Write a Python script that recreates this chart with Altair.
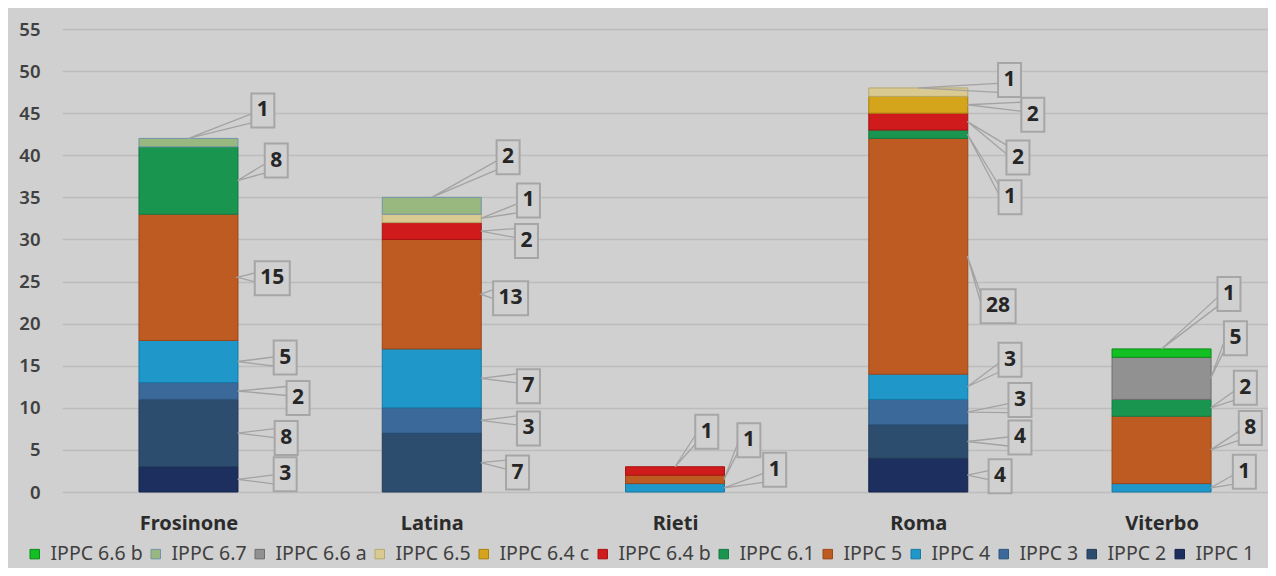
import altair as alt
import pandas as pd

# ---------------- data ----------------
categories = ["Frosinone", "Latina", "Rieti", "Roma", "Viterbo"]
series = ["IPPC 1", "IPPC 2", "IPPC 3", "IPPC 4", "IPPC 5", "IPPC 6.1",
          "IPPC 6.4 b", "IPPC 6.4 c", "IPPC 6.5", "IPPC 6.6 a", "IPPC 6.7", "IPPC 6.6 b"]

ippc_1 = [3, 0, 0, 4, 0]
ippc_2 = [8, 7, 0, 4, 0]
ippc_3 = [2, 3, 0, 3, 0]
ippc_4 = [5, 7, 1, 3, 1]
ippc_5 = [15, 13, 1, 28, 8]
ippc_6_1 = [8, 0, 0, 1, 2]
ippc_6_4b = [0, 2, 1, 2, 0]
ippc_6_4c = [0, 0, 0, 2, 0]
ippc_6_5 = [0, 1, 0, 1, 0]
ippc_6_6a = [0, 0, 0, 0, 5]
ippc_6_7 = [1, 2, 0, 0, 0]
ippc_6_6b = [0, 0, 0, 0, 1]

values = [ippc_1, ippc_2, ippc_3, ippc_4, ippc_5, ippc_6_1,
          ippc_6_4b, ippc_6_4c, ippc_6_5, ippc_6_6a, ippc_6_7, ippc_6_6b]

y_ticks = list(range(0, 56, 5))

# ---------------- styles ----------------
fills = ["#1c2f5e", "#2c4d6e", "#3b6a9a", "#1f97c8", "#bd5b23", "#1a9550",
         "#cf1b1b", "#d4a41a", "#d9ca92", "#919191", "#98b880", "#12c024"]
strokes = ["#15244a", "#223c58", "#2d557e", "#1679a5", "#9c4618", "#137a40",
           "#a81414", "#a8810e", "#b8a870", "#6e6e6e", "#7393a8", "#0a8a18"]

BG = "#d0d0d0"
FONT = "Noto Sans"

# callout box offsets (px) from the leader tip, keyed by (category, series)
label_offsets = {
    ("Frosinone", "IPPC 6.7"): (75, -28), ("Frosinone", "IPPC 6.1"): (39, -20),
    ("Frosinone", "IPPC 5"): (35, 1), ("Frosinone", "IPPC 4"): (48, -4),
    ("Frosinone", "IPPC 3"): (61, 7), ("Frosinone", "IPPC 2"): (49, 5),
    ("Frosinone", "IPPC 1"): (48, -5),
    ("Latina", "IPPC 6.7"): (77, -40), ("Latina", "IPPC 6.5"): (48, -18),
    ("Latina", "IPPC 6.4 b"): (46, 10), ("Latina", "IPPC 5"): (30, 4),
    ("Latina", "IPPC 4"): (48, 8), ("Latina", "IPPC 3"): (48, 8),
    ("Latina", "IPPC 2"): (37, 10),
    ("Rieti", "IPPC 6.4 b"): (32, -35), ("Rieti", "IPPC 5"): (25, -39),
    ("Rieti", "IPPC 4"): (51, -18),
    ("Roma", "IPPC 6.5"): (92, -8), ("Roma", "IPPC 6.4 c"): (66, 10),
    ("Roma", "IPPC 6.4 b"): (51, 36), ("Roma", "IPPC 6.1"): (43, 63),
    ("Roma", "IPPC 5"): (31, 50), ("Roma", "IPPC 4"): (43, -27),
    ("Roma", "IPPC 3"): (53, -12), ("Roma", "IPPC 2"): (53, -4),
    ("Roma", "IPPC 1"): (33, 1),
    ("Viterbo", "IPPC 6.6 b"): (68, -55), ("Viterbo", "IPPC 6.6 a"): (25, -40),
    ("Viterbo", "IPPC 6.1"): (35, -20), ("Viterbo", "IPPC 5"): (40, -22),
    ("Viterbo", "IPPC 4"): (34, -16),
}

# ---------------- layout ----------------
W, H = 1206, 463
PXX = 245.3                  # px per category step
XMIN = -122.5 / PXX
XMAX = XMIN + W / PXX
YMAX = 55
PXY = H / YMAX
BAR_W = 99
BOX_H = 34
BOX_HW_1 = 11.5              # half width, one digit
BOX_HW_2 = 17.5              # half width, two digits

# ---------------- build tables ----------------
seg_rows, lab_rows, line_rows = [], [], []
for i, cat in enumerate(categories):
    base = 0
    nz = [k for k in range(len(series)) if values[k][i] > 0]
    top_k = nz[-1]
    for k in nz:
        v = values[k][i]
        y0, y1 = base, base + v
        base = y1
        seg_rows.append({"x": i, "y0": y0, "y1": y1, "series": series[k]})
        if k == top_k:
            tx, ty = i, y1
        else:
            tx, ty = i + (BAR_W / 2) / PXX, (y0 + y1) / 2
        dx, dy = label_offsets[(cat, series[k])]
        bx, by = tx + dx / PXX, ty - dy / PXY
        wide = v >= 10
        hw = BOX_HW_2 if wide else BOX_HW_1
        lab_rows.append({"x": bx, "y": by, "label": str(v),
                         "wide": "w" if wide else "n"})
        bl = bx - hw / PXX
        hh = (BOX_H / 2) / PXY
        ac = min(max(ty, by - hh + 9 / PXY), by + hh - 9 / PXY)
        lid = f"{cat}-{series[k]}"
        line_rows += [
            {"id": lid, "o": 0, "x": bl, "y": ac + 4.5 / PXY},
            {"id": lid, "o": 1, "x": tx, "y": ty},
            {"id": lid, "o": 2, "x": bl, "y": ac - 4.5 / PXY},
        ]

segs = pd.DataFrame(seg_rows)
labs = pd.DataFrame(lab_rows)
lines = pd.DataFrame(line_rows)

legend_order = series[::-1]
fill_scale = alt.Scale(domain=legend_order, range=fills[::-1])
stroke_scale = alt.Scale(domain=legend_order, range=strokes[::-1])

xscale = alt.Scale(domain=[XMIN, XMAX], nice=False, zero=False)
yscale = alt.Scale(domain=[0, YMAX], nice=False, zero=False)

label_expr = "[" + ",".join(f"'{c}'" for c in categories) + "][datum.value]"

x_axis = alt.Axis(
    values=list(range(len(categories))), labelExpr=label_expr, title=None,
    grid=False, ticks=False, domain=False, labelFlush=False,
    labelOverlap=False, labelFontSize=20, labelFontWeight="bold",
    labelColor="#2b2b2b", labelPadding=21, labelFont=FONT)
y_axis = alt.Axis(
    values=y_ticks, title=None, ticks=False, domain=False,
    gridColor="#bcbcbc", gridWidth=1.5, labelFontSize=18.5,
    labelFontWeight=600, labelColor="#404040", labelPadding=22,
    labelFont=FONT)

bars = alt.Chart(segs).mark_bar(size=BAR_W, strokeWidth=1).encode(
    x=alt.X("x:Q", scale=xscale, axis=x_axis),
    y=alt.Y("y0:Q", scale=yscale, axis=y_axis),
    y2="y1:Q",
    fill=alt.Fill("series:N", scale=fill_scale, sort=legend_order,
                  legend=alt.Legend(
                      title=None, orient="none", direction="horizontal",
                      columns=12, legendX=-37, legendY=515,
                      symbolType="square", symbolSize=90,
                      symbolStrokeColor="#555555", symbolStrokeWidth=1,
                      labelFontSize=19.5, labelColor="#404040", labelFont=FONT,
                      labelOffset=6, columnPadding=3, padding=0)),
    stroke=alt.Stroke("series:N", scale=stroke_scale, legend=None),
)

leaders = alt.Chart(lines).mark_line(color="#a3a3a3", strokeWidth=1.3).encode(
    x=alt.X("x:Q", scale=xscale, axis=x_axis),
    y=alt.Y("y:Q", scale=yscale, axis=y_axis),
    detail="id:N",
    order="o:Q",
)

r1 = BOX_HW_1 * 2 / BOX_H
r2 = BOX_HW_2 * 2 / BOX_H
boxes = alt.Chart(labs).mark_point(
    filled=True, fill=BG, stroke="#a6a6a6", strokeWidth=2, opacity=1,
    size=BOX_H * BOX_H
).encode(
    x=alt.X("x:Q", scale=xscale, axis=x_axis),
    y=alt.Y("y:Q", scale=yscale, axis=y_axis),
    shape=alt.Shape("wide:N", scale=alt.Scale(
        domain=["n", "w"],
        range=[f"M-{r1},-1L{r1},-1L{r1},1L-{r1},1Z",
               f"M-{r2},-1L{r2},-1L{r2},1L-{r2},1Z"]),
        legend=None),
)

texts = alt.Chart(labs).mark_text(
    font=FONT, fontSize=21, fontWeight="bold", color="#262626", baseline="middle"
).encode(
    x=alt.X("x:Q", scale=xscale, axis=x_axis),
    y=alt.Y("y:Q", scale=yscale, axis=y_axis),
    text="label:N",
)

chart = alt.layer(bars, leaders, boxes, texts).properties(
    width=W, height=H,
    autosize=alt.AutoSizeParams(type="none"),
    padding={"left": 54, "top": 21, "right": 0, "bottom": 76},
    background=BG,
).configure_view(stroke=None)

chart.save("out.html", embed_options={"renderer": "svg", "actions": False})
